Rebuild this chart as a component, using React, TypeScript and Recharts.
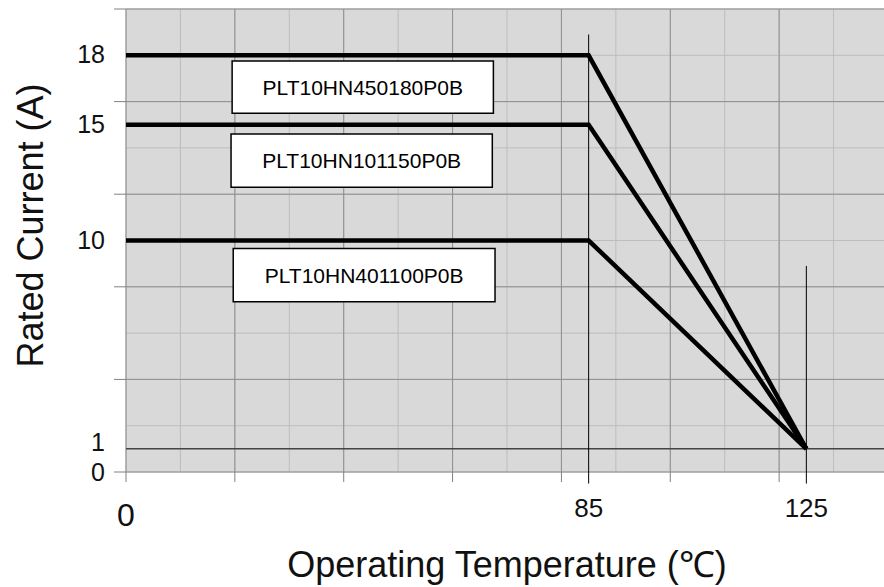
import { LineChart, Line, XAxis, YAxis, CartesianGrid, ReferenceLine, ReferenceArea } from 'recharts'

const FONT = '"Liberation Sans", Arial, Helvetica, sans-serif'

// derating curves, rated current (A) at each temperature (°C)
const temps = [0, 85, 125]
const currentHN450180 = [18, 18, 1]
const currentHN101150 = [15, 15, 1]
const currentHN401100 = [10, 10, 1]
const partNames = ['PLT10HN450180P0B', 'PLT10HN101150P0B', 'PLT10HN401100P0B']

// axis ticks
const xMinorTicks = [0, 10, 20, 30, 40, 50, 60, 70, 80, 90, 100, 110, 120, 130, 140]
const xMajorTicks = [0, 20, 40, 60, 80, 100, 120, 140]
const xLabelTicks = [0, 85, 125]
const yMinorTicks = [0, 2, 4, 6, 8, 10, 12, 14, 16, 18, 20]
const yMajorTicks = [0, 4, 8, 12, 16, 20]
const yLabelTicks = [0, 1, 10, 15, 18]

// annotation boxes (data units)
const boxX = [
  [19.5, 67.5],
  [19.3, 67.3],
  [19.7, 67.8],
]
const boxY = [
  [15.5, 17.75],
  [12.3, 14.6],
  [7.35, 9.65],
]

// thin vertical guide lines at the knee and end temperatures
const guideX = [85, 125]
const guideTop = [18.9, 8.9]

const data = temps.map((t, i) => ({
  temp: t,
  a: currentHN450180[i],
  b: currentHN101150[i],
  c: currentHN401100[i],
}))

const xAxisTicks = Array.from(new Set([...xMajorTicks, ...xLabelTicks])).sort((p, q) => p - q)
const yAxisTicks = Array.from(new Set([...yMajorTicks, ...yLabelTicks])).sort((p, q) => p - q)

const TICK_COLOR = '#808080'

// ticks that only exist for the grid
const NoLabel = () => <g />

function XTick(props: any) {
  const { x, y, payload } = props
  const v = payload.value
  const big = v === 0
  return (
    <g>
      {xMajorTicks.includes(v) && <line x1={x} y1={y} x2={x} y2={y + 10} stroke={TICK_COLOR} />}
      {xLabelTicks.includes(v) && (
        <text
          x={x}
          y={y + (big ? 54 : 45)}
          textAnchor="middle"
          fontSize={big ? 32 : 26}
          fontFamily={FONT}
          fill="#111"
        >
          {v}
        </text>
      )}
    </g>
  )
}

function YTick(props: any) {
  const { x, y, payload } = props
  const v = payload.value
  const dy = v === 1 ? 2 : v === 0 ? 9 : 8
  return (
    <g>
      {yMajorTicks.includes(v) && <line x1={x - 12} y1={y} x2={x} y2={y} stroke={TICK_COLOR} />}
      {yLabelTicks.includes(v) && (
        <text x={x - 21} y={y + dy} textAnchor="end" fontSize={25} fontFamily={FONT} fill="#111">
          {v}
        </text>
      )}
    </g>
  )
}

function XTitle(props: any) {
  const vb = props.viewBox
  return (
    <text x={vb.x + vb.width / 2} y={vb.y + 105} textAnchor="middle" fontSize={36} fontFamily={FONT} fill="#111">
      Operating Temperature (℃)
    </text>
  )
}

function YTitle(props: any) {
  const vb = props.viewBox
  const cx = 43
  const cy = vb.y + vb.height / 2 - 15
  return (
    <text
      x={cx}
      y={cy}
      transform={`rotate(-90, ${cx}, ${cy})`}
      textAnchor="middle"
      fontSize={36}
      fontFamily={FONT}
      fill="#111"
    >
      Rated Current (A)
    </text>
  )
}

export default function App() {
  return (
    <div
      style={{
        position: 'absolute',
        left: 0,
        top: 0,
        width: 884,
        height: 587,
        overflow: 'hidden',
        background: '#fff',
        fontFamily: FONT,
      }}
    >
      <LineChart width={888} height={587} data={data} margin={{ top: 9, right: 0, bottom: 0, left: 0 }}>
        {/* helper axes for the two grid levels, tucked away on top/right */}
        <XAxis
          xAxisId="minor"
          orientation="top"
          type="number"
          dataKey="temp"
          domain={[0, 140]}
          allowDataOverflow
          ticks={xMinorTicks}
          interval={0}
          height={0}
          tick={NoLabel}
          axisLine={false}
          tickLine={false}
        />
        <XAxis
          xAxisId="major"
          orientation="top"
          type="number"
          dataKey="temp"
          domain={[0, 140]}
          allowDataOverflow
          ticks={xMajorTicks}
          interval={0}
          height={0}
          tick={NoLabel}
          axisLine={false}
          tickLine={false}
        />
        <YAxis
          yAxisId="minor"
          orientation="right"
          type="number"
          dataKey="a"
          domain={[0, 20]}
          allowDataOverflow
          ticks={yMinorTicks}
          interval={0}
          width={0}
          tick={NoLabel}
          axisLine={false}
          tickLine={false}
        />
        <YAxis
          yAxisId="major"
          orientation="right"
          type="number"
          dataKey="a"
          domain={[0, 20]}
          allowDataOverflow
          ticks={yMajorTicks}
          interval={0}
          width={0}
          tick={NoLabel}
          axisLine={false}
          tickLine={false}
        />
        {/* visible axes */}
        <XAxis
          xAxisId={0}
          type="number"
          dataKey="temp"
          domain={[0, 140]}
          allowDataOverflow
          ticks={xAxisTicks}
          interval={0}
          height={115}
          axisLine={false}
          tickLine={false}
          tickSize={0}
          tickMargin={0}
          tick={<XTick />}
          label={{ content: XTitle }}
        />
        <YAxis
          yAxisId={0}
          type="number"
          domain={[0, 20]}
          allowDataOverflow
          ticks={yAxisTicks}
          interval={0}
          width={126}
          axisLine={false}
          tickLine={false}
          tickSize={0}
          tickMargin={0}
          tick={<YTick />}
          label={{ content: YTitle }}
        />
        <CartesianGrid xAxisId="minor" yAxisId="minor" fill="#d9d9d9" stroke="#bdbdbd" strokeWidth={1} />
        <CartesianGrid xAxisId="major" yAxisId="major" stroke="#8f8f8f" strokeWidth={1} />
        <ReferenceLine y={1} stroke="#444" strokeWidth={1.5} />
        {guideX.map((gx, i) => (
          <ReferenceLine
            key={gx}
            segment={[
              { x: gx, y: guideTop[i] },
              { x: gx, y: -0.5 },
            ]}
            ifOverflow="visible"
            stroke="#000"
            strokeWidth={1}
          />
        ))}
        {partNames.map((name, i) => (
          <ReferenceArea
            key={name}
            x1={boxX[i][0]}
            x2={boxX[i][1]}
            y1={boxY[i][0]}
            y2={boxY[i][1]}
            fill="#fff"
            fillOpacity={1}
            stroke="#000"
            strokeWidth={1.5}
            label={{ value: name, position: 'center', fontSize: 21, fill: '#000', fontFamily: FONT }}
          />
        ))}
        <Line type="linear" dataKey="a" stroke="#000" strokeWidth={4.5} dot={false} isAnimationActive={false} />
        <Line type="linear" dataKey="b" stroke="#000" strokeWidth={4.5} dot={false} isAnimationActive={false} />
        <Line type="linear" dataKey="c" stroke="#000" strokeWidth={4.5} dot={false} isAnimationActive={false} />
      </LineChart>
    </div>
  )
}
